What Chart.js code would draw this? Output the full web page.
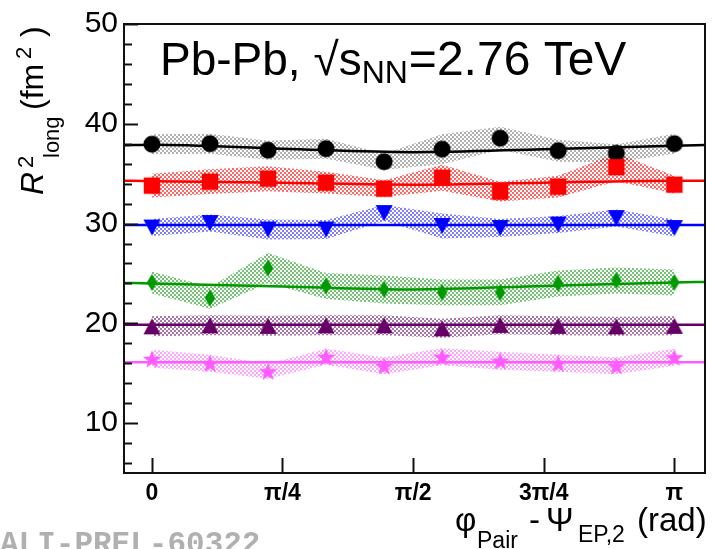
<!DOCTYPE html>
<html><head><meta charset="utf-8">
<script src="https://cdn.jsdelivr.net/npm/chart.js@4.4.1/dist/chart.umd.min.js"></script>
<style>html,body{margin:0;padding:0;background:#fff}#wrap{width:715px;height:549px;position:relative}</style>
</head><body><div id="wrap"><canvas id="c" width="715" height="549"></canvas></div>
<script>
// ---- data ----
const PHI = [0, 0.349, 0.698, 1.047, 1.396, 1.745, 2.094, 2.443, 2.793, 3.142];
const X_TICK_VALUES = [0, 0.785, 1.571, 2.356, 3.142];
const X_TICK_LABELS = ['0', 'π/4', 'π/2', '3π/4', 'π'];
const Y_TICK_VALUES = [10, 20, 30, 40, 50];

const R_BLACK  = [37.95, 38.0, 37.35, 37.5, 36.2, 37.45, 38.55, 37.3, 37.05, 38.0];
const E_BLACK  = [1.0, 1.0, 0.95, 1.0, 0.8, 1.5, 1.15, 1.1, 0.9, 1.0];
const R_RED    = [33.8, 34.2, 34.5, 34.1, 33.5, 34.6, 33.2, 33.7, 35.65, 33.9];
const E_RED    = [1.2, 1.25, 1.25, 1.1, 0.85, 1.3, 1.0, 1.1, 1.4, 0.9];
const R_BLUE   = [29.6, 30.05, 29.4, 29.4, 31.05, 29.75, 29.55, 29.9, 30.55, 29.55];
const E_BLUE   = [0.85, 0.85, 1.0, 0.95, 0.8, 1.25, 0.9, 0.85, 0.85, 0.85];
const R_GREEN  = [24.1, 22.55, 25.55, 23.75, 23.4, 23.1, 23.1, 24.0, 24.3, 24.1];
const E_GREEN  = [1.1, 1.1, 1.5, 1.3, 1.4, 1.3, 1.3, 1.3, 1.3, 1.3];
const R_PURPLE = [19.7, 19.8, 19.75, 19.8, 19.8, 19.5, 19.85, 19.75, 19.7, 19.75];
const E_PURPLE = [1.0, 1.0, 1.0, 1.0, 1.0, 0.95, 0.95, 0.95, 0.95, 0.95];
const R_PINK   = [16.45, 16.0, 15.2, 16.65, 15.75, 16.65, 16.25, 16.0, 15.75, 16.6];
const E_PINK   = [0.9, 0.85, 0.75, 0.8, 0.85, 0.85, 0.9, 0.85, 0.85, 0.85];

// fit curves, read at these phi positions
const FIT_PHI    = [-0.168, 0, 0.785, 1.571, 2.356, 3.142, 3.326];
const FIT_BLACK  = [37.85, 37.9, 37.5, 37.15, 37.45, 37.8, 37.87];
const FIT_RED    = [34.3, 34.25, 34.1, 33.9, 34.1, 34.3, 34.3];
const FIT_BLUE   = [29.85, 29.85, 29.85, 29.85, 29.85, 29.85, 29.85];
const FIT_GREEN  = [24.05, 24.0, 23.7, 23.4, 23.75, 24.1, 24.15];
const FIT_PURPLE = [19.85, 19.85, 19.85, 19.85, 19.85, 19.85, 19.85];
const FIT_PINK   = [16.1, 16.1, 16.1, 16.1, 16.1, 16.1, 16.1];

// ---- styling helpers ----
function makePattern(color) {
  const c = document.createElement('canvas'); c.width = 4; c.height = 4;
  const g = c.getContext('2d');
  g.fillStyle = color;
  g.fillRect(0, 0, 2, 2); g.fillRect(2, 2, 2, 2);
  return document.getElementById('c').getContext('2d').createPattern(c, 'repeat');
}
function makeMarker(shape, color) {
  const c = document.createElement('canvas'); c.width = 22; c.height = 22;
  const g = c.getContext('2d');
  g.fillStyle = color; g.beginPath();
  const cx = 11, cy = 11;
  if (shape === 'circle') { g.arc(cx, cy, 8.5, 0, Math.PI * 2); }
  else if (shape === 'square') { g.rect(cx - 8.2, cy - 8.2, 16.4, 16.4); }
  else if (shape === 'tridown') { g.moveTo(cx - 8.5, cy - 8); g.lineTo(cx + 8.5, cy - 8); g.lineTo(cx, cy + 8); g.closePath(); }
  else if (shape === 'triup') { g.moveTo(cx - 8.5, cy + 8); g.lineTo(cx + 8.5, cy + 8); g.lineTo(cx, cy - 8); g.closePath(); }
  else if (shape === 'diamond') { g.moveTo(cx, cy - 8.5); g.lineTo(cx + 5.2, cy); g.lineTo(cx, cy + 8.5); g.lineTo(cx - 5.2, cy); g.closePath(); }
  else if (shape === 'star') {
    for (let i = 0; i < 10; i++) {
      const r = i % 2 ? 3.9 : 9.5; const a = -Math.PI / 2 + i * Math.PI / 5;
      const px = cx + r * Math.cos(a), py = cy + 1 + r * Math.sin(a);
      i ? g.lineTo(px, py) : g.moveTo(px, py);
    }
    g.closePath();
  }
  g.fill();
  return c;
}

const SERIES = [
  {vals: R_BLACK,  errs: E_BLACK,  fit: FIT_BLACK,  color: '#000000', band: 'rgba(100,100,100,0.5)',  shape: 'circle'},
  {vals: R_RED,    errs: E_RED,    fit: FIT_RED,    color: '#ff0000', band: 'rgba(255,0,0,0.6)',      shape: 'square'},
  {vals: R_BLUE,   errs: E_BLUE,   fit: FIT_BLUE,   color: '#0000ff', band: 'rgba(0,0,255,0.5)',      shape: 'tridown'},
  {vals: R_GREEN,  errs: E_GREEN,  fit: FIT_GREEN,  color: '#009a00', band: 'rgba(0,150,0,0.55)',     shape: 'diamond'},
  {vals: R_PURPLE, errs: E_PURPLE, fit: FIT_PURPLE, color: '#660066', band: 'rgba(102,0,102,0.55)',   shape: 'triup'},
  {vals: R_PINK,   errs: E_PINK,   fit: FIT_PINK,   color: '#ff5cff', band: 'rgba(255,92,255,0.55)',  shape: 'star'}
];

const datasets = [];
SERIES.forEach((s, k) => {
  datasets.push({
    data: PHI.map((x, i) => ({x, y: s.vals[i] + s.errs[i]})),
    showLine: true, borderWidth: 0, borderColor: 'rgba(0,0,0,0)', pointRadius: 0, fill: false,
    tension: 0, order: 300 - k
  });
  datasets.push({
    data: PHI.map((x, i) => ({x, y: s.vals[i] - s.errs[i]})),
    showLine: true, borderWidth: 0, borderColor: 'rgba(0,0,0,0)', pointRadius: 0,
    fill: '-1', backgroundColor: makePattern(s.band), tension: 0, order: 300 - k
  });
  datasets.push({
    data: FIT_PHI.map((x, i) => ({x, y: s.fit[i]})),
    showLine: true, borderWidth: 2.5, borderColor: s.color, pointRadius: 0, fill: false,
    cubicInterpolationMode: 'monotone', order: 200 - k
  });
  datasets.push({
    data: PHI.map((x, i) => ({x, y: s.vals[i]})),
    showLine: false, pointStyle: makeMarker(s.shape, s.color), pointRadius: 9,
    backgroundColor: s.color, borderColor: s.color, order: 100 - k
  });
});

const FONT = '"Liberation Sans", Arial, Helvetica, sans-serif';

function drawSeg(ctx, x, y, text, font) { ctx.font = font; ctx.fillText(text, x, y); }

const decor = {
  id: 'decor',
  afterDraw(chart) {
    const ctx = chart.ctx, a = chart.chartArea;
    const xs = chart.scales.x, ys = chart.scales.y;
    ctx.save();
    ctx.strokeStyle = '#111'; ctx.lineWidth = 2;
    ctx.strokeRect(a.left, a.top, a.right - a.left, a.bottom - a.top);
    ctx.beginPath();
    for (let v = Math.ceil(ys.min); v <= ys.max; v += 1) {
      if (v % 2) continue;
      const py = Math.round(ys.getPixelForValue(v)) + 0.5;
      const len = v % 10 === 0 ? 14 : 8;
      ctx.moveTo(a.left, py); ctx.lineTo(a.left + len, py);
    }
    X_TICK_VALUES.forEach(v => {
      const px = Math.round(xs.getPixelForValue(v)) + 0.5;
      ctx.moveTo(px, a.bottom); ctx.lineTo(px, a.bottom - 15);
    });
    ctx.stroke();

    ctx.fillStyle = '#000'; ctx.textBaseline = 'alphabetic'; ctx.textAlign = 'left';
    // title
    drawSeg(ctx, 160, 75, 'Pb-Pb, √s', '46px ' + FONT);
    let w = ctx.measureText('Pb-Pb, √s').width;
    drawSeg(ctx, 160 + w, 83, 'NN', '32px ' + FONT);
    ctx.font = '32px ' + FONT; const w2 = ctx.measureText('NN').width;
    drawSeg(ctx, 160 + w + w2 + 1, 75, '=2.76 TeV', '48px ' + FONT);

    // x title
    drawSeg(ctx, 455, 531, 'φ', '33px ' + FONT);
    drawSeg(ctx, 477, 548, 'Pair', '23px ' + FONT);
    drawSeg(ctx, 529, 531, '-', '33px ' + FONT);
    drawSeg(ctx, 546, 531, 'Ψ', '33px ' + FONT);
    drawSeg(ctx, 578, 542, 'EP,2', '23px ' + FONT);
    drawSeg(ctx, 637, 531, '(rad)', '33px ' + FONT);

    // y title (rotated)
    ctx.save();
    ctx.translate(43, 0); ctx.rotate(-Math.PI / 2);
    drawSeg(ctx, -195, 0, 'R', 'italic 32px ' + FONT);
    drawSeg(ctx, -168, -10, '2', '22px ' + FONT);
    drawSeg(ctx, -158, 16, 'long', '22px ' + FONT);
    drawSeg(ctx, -110, 0, '(fm', '32px ' + FONT);
    drawSeg(ctx, -59, -12, '2', '22px ' + FONT);
    drawSeg(ctx, -37, 0, ')', '32px ' + FONT);
    ctx.restore();

    // preliminary label
    ctx.fillStyle = '#b0b0b0';
    drawSeg(ctx, 0, 553, 'ALI-PREL-60322', 'bold 31px "Liberation Mono", "Courier New", monospace');
    ctx.restore();
  }
};

new Chart(document.getElementById('c'), {
  type: 'scatter',
  data: {datasets},
  options: {
    responsive: false, animation: false, devicePixelRatio: 1,
    layout: {padding: {left: 0, right: 2, top: 21, bottom: 0}},
    plugins: {legend: {display: false}, tooltip: {enabled: false}},
    scales: {
      x: {
        type: 'linear', min: -0.168, max: 3.326,
        grid: {display: false, drawTicks: false}, border: {display: false},
        afterBuildTicks: s => { s.ticks = X_TICK_VALUES.map(v => ({value: v})); },
        afterFit: s => { s.height = 76; },
        ticks: {autoSkip: false, maxRotation: 0, padding: 7, color: '#000',
          font: {family: FONT, size: 23, weight: 'bold'},
          callback: (v, i) => X_TICK_LABELS[i]}
      },
      y: {
        type: 'linear', min: 5, max: 50,
        grid: {display: false, drawTicks: false}, border: {display: false},
        afterBuildTicks: s => { s.ticks = Y_TICK_VALUES.map(v => ({value: v})); },
        afterFit: s => { s.width = 124; },
        ticks: {padding: 6, color: '#000', font: {family: FONT, size: 30},
          callback: v => String(v)}
      }
    }
  },
  plugins: [decor]
});
</script></body></html>
